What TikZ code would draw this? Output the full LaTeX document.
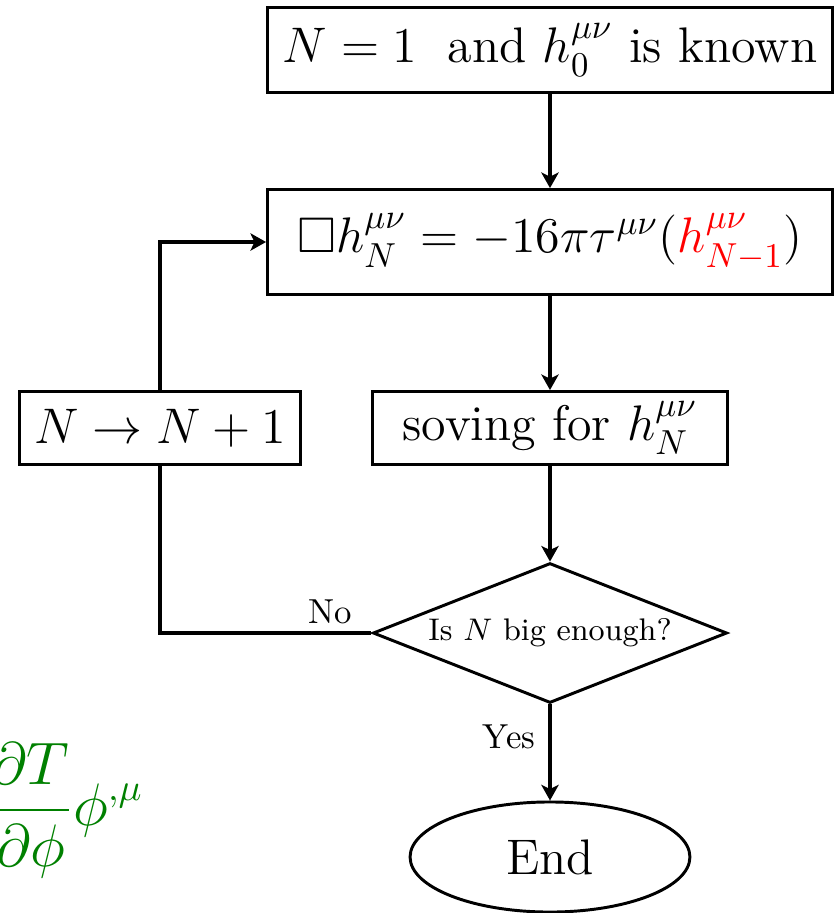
\documentclass[tikz,border=0pt]{standalone}
\usepackage{amsmath,amssymb}
\usepackage{tikz}
\usepackage{xcolor}
\usetikzlibrary{arrows.meta,shapes.geometric}
\definecolor{ink}     {HTML}{000000}
\definecolor{errred}  {HTML}{FF0000}
\definecolor{eqgreen} {HTML}{008000}
\tikzset{
  stepbox/.style  ={draw=ink, line width=0.85pt, align=center,
                    font=\Large, inner sep=2pt},
  testbox/.style  ={draw=ink, line width=0.85pt, diamond, aspect=2.53,
                    inner sep=1pt, font=\small,
                    minimum width=102pt, minimum height=40.3pt},
  endbox/.style   ={draw=ink, line width=0.85pt, ellipse, font=\Large,
                    minimum width=80.6pt, minimum height=31.7pt},
  flowarr/.style  ={-{Stealth[length=4.5pt,width=5pt,inset=1.2pt]}, line width=1.2pt},
  flowline/.style ={line width=1.2pt},
}
\begin{document}
\begin{tikzpicture}[x=0.288pt,y=-0.288pt]
        \useasboundingbox (0,0) rectangle (837,913);
        \node[stepbox,minimum width=162.7pt,minimum height=24.5pt] (start) at (550,50)
          {$N=1\;$ and $h_0^{\mu\nu}$ is known};
        \node[stepbox,minimum width=162.7pt,minimum height=30.2pt] (eqn) at (550,242)
          {$\Box h_N^{\mu\nu}=-16\pi\tau^{\mu\nu}(\textcolor{errred}{h_{N-1}^{\mu\nu}})$};
        \node[stepbox,minimum width=102.5pt,minimum height=21pt] (solve) at (550,428)
          {soving for $h_N^{\mu\nu}$};
        \node[stepbox,minimum width=81pt,minimum height=21pt] (incr) at (160,428)
          {$N\to N+1$};
        \node[testbox] (check) at (550,633) {Is $N$ big enough?};
        \node[endbox] (finish) at (550,857) {End};
        \node[font=\normalsize] (nolab) at (330,612) {No};
        \node[font=\normalsize] (yeslab) at (509,737) {Yes};
        \node[text=eqgreen,font=\fontsize{16}{19}\selectfont,inner sep=0pt,anchor=base east] (grad) at (144,825)
          {$\displaystyle\frac{\partial T}{\partial\phi}\phi^{,\mu}$};
        \draw[flowarr] (start.south) -- (eqn.north);
        \draw[flowarr] (eqn.south) -- (solve.north);
        \draw[flowarr] (solve.south) -- (check.north);
        \draw[flowarr] (check.south) -- (finish.north);
        \draw[flowline] (check.west) -- (check.west -| incr.south) -- (incr.south);
        \draw[flowarr] (incr.north) |- (eqn.west);
      \end{tikzpicture}
\end{document}
